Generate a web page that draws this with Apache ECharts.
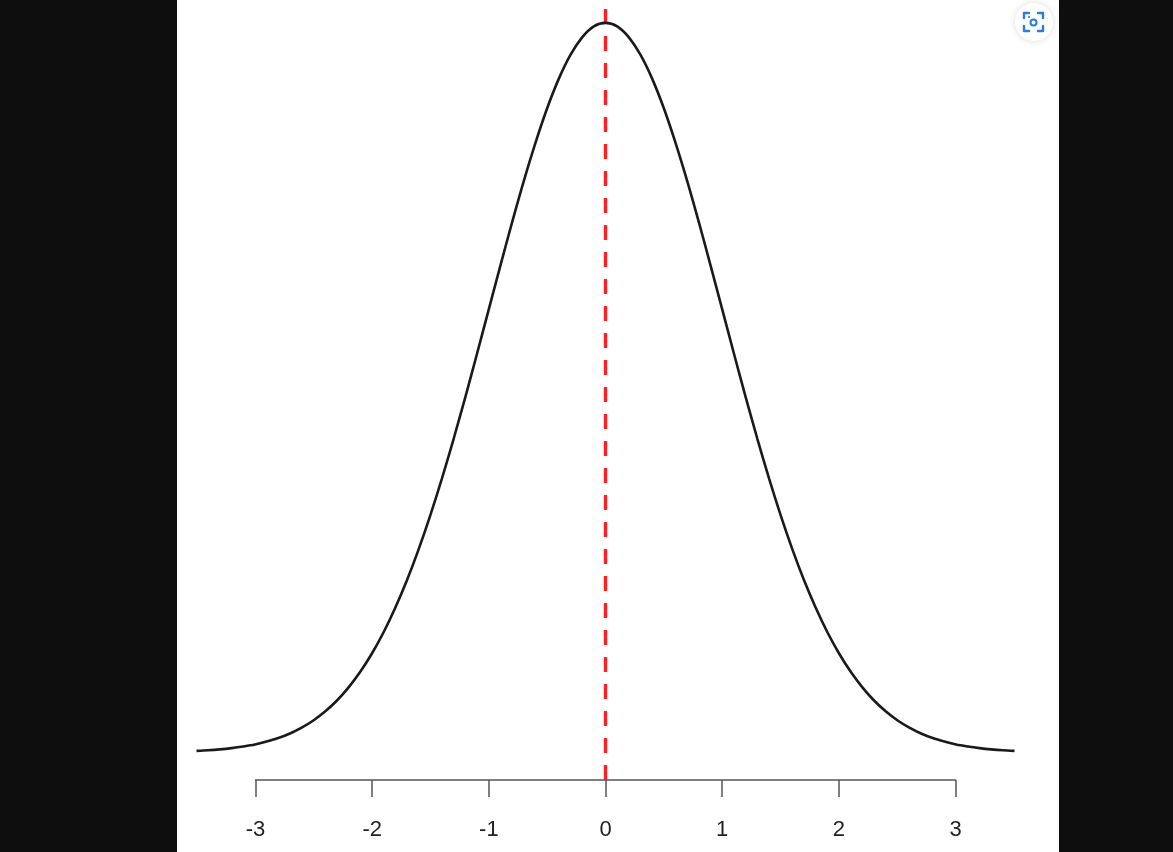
<!DOCTYPE html>
<html>
<head>
<meta charset="utf-8">
<script src="https://cdn.jsdelivr.net/npm/echarts@6/dist/echarts.min.js"></script>
<style>
html,body{margin:0;padding:0;background:#0e0e0e;}
#chart{width:1173px;height:852px;}
</style>
</head>
<body>
<div id="chart"></div>
<script>
// x positions (standard units) and density values
var xValues = [-3.5,-3.4,-3.3,-3.2,-3.1,-3.0,-2.9,-2.8,-2.7,-2.6,-2.5,-2.4,-2.3,-2.2,-2.1,-2.0,-1.9,-1.8,-1.7,-1.6,-1.5,-1.4,-1.3,-1.2,-1.1,-1.0,-0.9,-0.8,-0.7,-0.6,-0.5,-0.4,-0.3,-0.2,-0.1,0.0,0.1,0.2,0.3,0.4,0.5,0.6,0.7,0.8,0.9,1.0,1.1,1.2,1.3,1.4,1.5,1.6,1.7,1.8,1.9,2.0,2.1,2.2,2.3,2.4,2.5,2.6,2.7,2.8,2.9,3.0,3.1,3.2,3.3,3.4,3.5];
var density = [0.0009,0.0012,0.0017,0.0024,0.0033,0.0044,0.0060,0.0079,0.0104,0.0136,0.0175,0.0224,0.0283,0.0355,0.0440,0.0540,0.0656,0.0790,0.0940,0.1109,0.1295,0.1497,0.1714,0.1942,0.2179,0.2420,0.2661,0.2897,0.3123,0.3332,0.3521,0.3683,0.3814,0.3910,0.3970,0.3989,0.3970,0.3910,0.3814,0.3683,0.3521,0.3332,0.3123,0.2897,0.2661,0.2420,0.2179,0.1942,0.1714,0.1497,0.1295,0.1109,0.0940,0.0790,0.0656,0.0540,0.0440,0.0355,0.0283,0.0224,0.0175,0.0136,0.0104,0.0079,0.0060,0.0044,0.0033,0.0024,0.0017,0.0012,0.0009];
var meanValue = [0];
var tickLabels = ['-3','-2','-1','0','1','2','3'];

var curveData = xValues.map(function(x, i){ return [x, density[i]]; });

var blue = '#2f7bd6';
var chart = echarts.init(document.getElementById('chart'), null, {renderer:'canvas'});
chart.setOption({
  backgroundColor: '#0e0e0e',
  animation: false,
  graphic: [
    {type:'rect', z:-10, shape:{x:177, y:0, width:882, height:852}, style:{fill:'#ffffff'}},
    {type:'circle', z:100, shape:{cx:1034, cy:22, r:19}, style:{fill:'#ffffff', shadowBlur:7, shadowColor:'rgba(0,0,0,0.14)'}},
    {type:'polyline', z:101, shape:{points:[[1024,18],[1024,13],[1029,13]]}, style:{stroke:blue, lineWidth:2.4, fill:null, lineCap:'round', lineJoin:'round'}},
    {type:'polyline', z:101, shape:{points:[[1038,13],[1043,13],[1043,18]]}, style:{stroke:blue, lineWidth:2.4, fill:null, lineCap:'round', lineJoin:'round'}},
    {type:'polyline', z:101, shape:{points:[[1024,26],[1024,31],[1029,31]]}, style:{stroke:blue, lineWidth:2.4, fill:null, lineCap:'round', lineJoin:'round'}},
    {type:'polyline', z:101, shape:{points:[[1038,31],[1043,31],[1043,26]]}, style:{stroke:blue, lineWidth:2.4, fill:null, lineCap:'round', lineJoin:'round'}},
    {type:'circle', z:101, shape:{cx:1033.5, cy:22.5, r:3}, style:{fill:null, stroke:blue, lineWidth:2}},
    {type:'circle', z:101, shape:{cx:1029, cy:17, r:1.1}, style:{fill:blue}}
  ],
  grid: [
    {left:196.5, width:818, top:5, height:775, containLabel:false},
    {left:255.5, width:700, top:5, height:775, containLabel:false}
  ],
  xAxis: [
    {type:'value', gridIndex:0, min:-3.5, max:3.5, show:false},
    {type:'value', gridIndex:1, min:-3, max:3, interval:1, position:'bottom',
     axisLine:{show:true, lineStyle:{color:'#555555', width:1.5}},
     axisTick:{show:true, length:17, lineStyle:{color:'#555555', width:1.5}},
     splitLine:{show:false},
     axisLabel:{margin:39, fontSize:22, color:'#222222', fontFamily:'Liberation Sans, Arial, sans-serif',
       formatter:function(v){ var i = Math.round(v) + 3; return tickLabels[i] !== undefined ? tickLabels[i] : ''; }}
    }
  ],
  yAxis: [
    {type:'value', gridIndex:0, min:-0.01503, max:0.4087, show:false},
    {type:'value', gridIndex:1, min:0, max:1, show:false}
  ],
  series: [
    {type:'line', xAxisIndex:0, yAxisIndex:0, data:curveData, showSymbol:false, smooth:0.3,
     lineStyle:{color:'#1a1a1a', width:2.6}, z:5,
     markLine:{silent:true, symbol:['none','none'], label:{show:false},
       lineStyle:{color:'#ff2222', width:3.4, type:[15,12]},
       data: meanValue.map(function(m){ return {xAxis:m}; })}
    }
  ]
});
</script>
</body>
</html>
